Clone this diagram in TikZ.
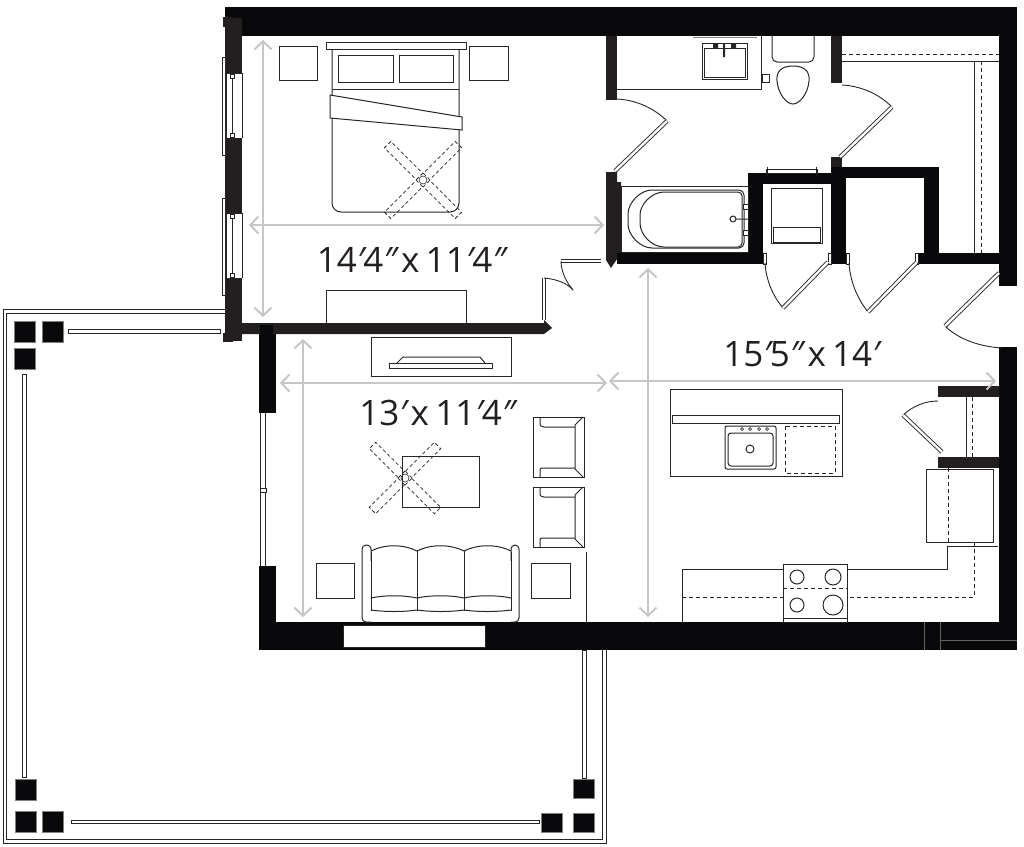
\documentclass[tikz,border=0pt]{standalone}
\usepackage{fontspec}
\setmainfont{Open Sans}
\usetikzlibrary{arrows.meta}
\definecolor{wallblack}{HTML}{09090B}
\definecolor{walldark}{HTML}{231F20}
\definecolor{linegray}{HTML}{262626}
\definecolor{dimgray}{HTML}{C6C6C6}
\newcommand{\ftmk}{{\itshape ′}\kern-.03em}
\newcommand{\inmk}{{\itshape ″}\kern-.02em}
\newcommand{\bysep}{\hspace{.14em}x\hspace{.18em}}
\tikzset{
	wall/.style={fill=wallblack, draw=none},
	walltwo/.style={fill=walldark, draw=none},
	pane/.style={fill=white, draw=linegray, line width=.8pt},
	furn/.style={draw=linegray, line width=1pt},
	hidden/.style={draw=linegray, line width=1pt, dash pattern=on 4pt off 3pt},
	leaf/.style={draw=linegray, line width=.9pt, double=white, double distance=2.4pt},
	swing/.style={draw=linegray, line width=.9pt},
	dim/.style={draw=dimgray, line width=2pt, {Straight Barb[length=8pt,width=17pt]}-{Straight Barb[length=8pt,width=17pt]}},
	room/.style={text=walldark, font=\fontsize{35}{37}\selectfont, inner sep=0pt},
	post/.style={fill=wallblack, draw=gray, line width=.6pt},
	slit/.style={fill=white, draw=linegray, line width=.9pt},
	nub/.style={fill=white, draw=linegray, line width=.6pt}
}
\begin{document}
\begin{tikzpicture}[x=1pt, y=-1pt]
	\useasboundingbox (0,0) rectangle (1024,846);

	% patio
	\draw[furn] (225,309) -- (3,309) -- (3,843) -- (606,843) -- (606,650);
	\draw[furn] (225,313) -- (6,313) -- (6,839) -- (602,839) -- (602,650);
	\draw[slit] (68,329) rectangle (220,333);
	\draw[slit] (22,374) rectangle (26,777);
	\draw[slit] (71,820) rectangle (539,823);
	\draw[slit] (582,650) rectangle (586,778);
	\draw[post] (14,321) rectangle (35,342);
	\draw[post] (42,321) rectangle (63,342);
	\draw[post] (14,348) rectangle (35,369);
	\draw[post] (15,779) rectangle (36,800);
	\draw[post] (15,811) rectangle (36,832);
	\draw[post] (42,811) rectangle (63,832);
	\draw[post] (573,779) rectangle (594,798);
	\draw[post] (541,813) rectangle (562,832);
	\draw[post] (573,813) rectangle (594,832);

	% outer walls
	\fill[wall] (225,7) rectangle (1017,36);
	\fill[wall] (999,7) rectangle (1017,286);
	\fill[wall] (999,347) rectangle (1017,650);
	\fill[wall] (259,622) rectangle (1017,650);
	\draw[walldark!70, line width=.4pt] (924,622) -- (924,650) (940,622) -- (940,650) (940,640) -- (1017,640);
	\fill[walltwo] (225,18) rectangle (242,341);
	\fill[walltwo] (223,17) rectangle (233,27);
	\fill[walltwo] (223,333) rectangle (233,342);
	\fill[walltwo] (225,323) -- (544,323) -- (544,320) -- (552,328) -- (544,334) -- (225,334) -- cycle;
	\fill[wall] (260,325) rectangle (273,350);
	\fill[wall] (259,334) rectangle (276,413);
	\fill[wall] (259,566) rectangle (276,622);
	\draw[pane] (343,625) rectangle (485,647);

	% bedroom windows
	\foreach \wtop/\wbot/\ptop/\pbot in {73/138/57/155, 213/278/198/295} {
		\fill[white] (226,\wtop) rectangle (242,\wbot);
		\draw[furn] (226,\wtop) -- (242,\wtop) (226,\wbot) -- (242,\wbot) (226,\wtop) -- (226,\wbot) (242,\wtop) -- (242,\wbot);
		\draw[furn] (232,\wtop) -- (232,\wbot);
		\draw[pane] (222,\ptop) rectangle (225,\pbot);
		\draw[nub] (230,\wtop+1) rectangle (234,\wtop+5);
		\draw[nub] (230,\wbot-5) rectangle (234,\wbot-1);
	}

	% living room slider
	\fill[white] (260,413) rectangle (266,566);
	\draw[furn] (260,413) -- (260,566);
	\draw[furn] (265,413) -- (265,488) (265,492) -- (265,566);
	\draw[nub] (260,488) rectangle (266,492);

	% doors
	\draw[leaf] (601,261) -- (561,261);
	\draw[leaf] (544,320) -- (544,278);
	\draw[swing] (544,278) .. controls (556,279) and (567,283) .. (573,290);
	\draw[swing] (561,261) .. controls (561,271) and (566,282) .. (573,290);

	% inner walls
	\fill[walltwo] (606,36) rectangle (617,100);
	\fill[walltwo] (606,172) -- (617,172) -- (617,182) -- (621,182) -- (621,253) -- (617,259) -- (611,268) -- (606,260) -- cycle;
	\fill[wall] (617,253) rectangle (763,264);
	\fill[wall] (748,173) rectangle (763,253);
	\fill[wall] (748,173) rectangle (831,184);
	\fill[wall] (831,167) rectangle (846,264);
	\fill[wall] (831,167) rectangle (939,178);
	\fill[wall] (924,167) rectangle (939,253);
	\fill[wall] (918,253) rectangle (999,264);
	\fill[walltwo] (831,36) rectangle (842,83);
	\fill[walltwo] (831,157) rectangle (842,167);
	\fill[walltwo] (938,386) rectangle (999,397);
	\fill[walltwo] (938,457) rectangle (999,468);
	\draw[nub] (763,253) rectangle (766,264);
	\draw[nub] (828,253) rectangle (831,264);
	\draw[nub] (846,253) rectangle (849,264);
	\draw[nub] (915,253) rectangle (918,264);

	% more doors
	\draw[swing] (617,99) .. controls (636,100) and (654,108) .. (667,121);
	\draw[leaf] (615,171) -- (667,121);
	\draw[swing] (842,85) .. controls (861,86) and (879,94) .. (892,107);
	\draw[leaf] (840,157) -- (892,107);
	\draw[swing] (765,263) .. controls (766,279) and (772,295) .. (783,308);
	\draw[leaf] (828,262) -- (783,308);
	\draw[swing] (849,263) .. controls (850,281) and (857,298) .. (868,312);
	\draw[leaf] (917,262) -- (868,312);
	\draw[swing] (945,326) .. controls (958,339) and (980,347) .. (1003,348);
	\draw[leaf] (999,273) -- (945,326);
	\draw[swing] (903,415) .. controls (913,406) and (925,401) .. (938,401);
	\draw[leaf] (942,452) -- (903,415);

	% bed
	\draw[furn] (279,46) rectangle (317,80);
	\draw[furn] (469,46) rectangle (508,80);
	\draw[furn] (326,42) rectangle (466,49);
	\draw[furn, rounded corners=9pt] (332,49) -- (332,212) -- (459,212) -- (459,49);
	\draw[furn] (332,49) -- (459,49);
	\draw[furn] (338,55) rectangle (393,82);
	\draw[furn] (399,55) rectangle (453,82);
	\draw[furn] (332,89) -- (459,89);
	\draw[furn, fill=white] (330,95) -- (462,117) -- (462,130) -- (330,118) -- cycle;
	\draw[furn] (326,323) -- (326,290) -- (466,290) -- (466,323);

	% living room
	\draw[furn] (371,337) rectangle (511,376);
	\draw[furn] (389,363) rectangle (492,368);
	\draw[furn] (397,363) -- (403,357) -- (480,357) -- (485,363);
	\draw[furn] (402,456) rectangle (479,507);
	\foreach \ctop in {417, 487} {
		\draw[furn] (533,\ctop) rectangle (584,\ctop+60);
		\draw[furn] (540,\ctop) -- (540,\ctop+5) .. controls (540,\ctop+9) .. (544,\ctop+10) -- (575,\ctop+10);
		\draw[furn] (540,\ctop+60) -- (540,\ctop+55) .. controls (540,\ctop+51) .. (544,\ctop+51) -- (575,\ctop+51);
		\draw[furn] (583,\ctop) -- (575,\ctop+8) -- (575,\ctop+52) -- (583,\ctop+60);
	}
	\draw[furn] (316,563) rectangle (354,598);
	\draw[furn] (531,563) rectangle (570,598);
	\draw[furn] (586,552) -- (586,622);
	% sofa
	\draw[furn, rounded corners=4pt] (371,622) -- (362,622) -- (362,545) -- (371,545) -- (371,561);
	\draw[furn, rounded corners=4pt] (511,622) -- (519,622) -- (519,545) -- (511,545) -- (511,561);
	\draw[furn] (371,552) -- (371,611) (511,552) -- (511,611);
	\draw[furn] (417,551) -- (417,611) (464,551) -- (464,611);
	\draw[furn] (371,551) .. controls (385,544) and (403,544) .. (417,551) .. controls (431,544) and (450,544) .. (464,551) .. controls (478,544) and (497,544) .. (511,551);
	\draw[furn] (371,598) .. controls (385,595) and (403,595) .. (417,598) .. controls (431,595) and (450,595) .. (464,598) .. controls (478,595) and (497,595) .. (511,598);
	\draw[furn] (371,610) .. controls (385,612) and (403,612) .. (417,610) .. controls (431,612) and (450,612) .. (464,610) .. controls (478,612) and (497,612) .. (511,610);

	% ceiling fans
	\foreach \fx/\fy/\flen in {423/180/50, 405/478/46} {
		\begin{scope}[shift={(\fx,\fy)}]
			\draw[furn, line width=.6pt] (0,0) circle (4);
			\foreach \a in {45,135,225,315}
				\draw[hidden, line width=.8pt, rotate=\a, dash pattern=on 3.5pt off 2.5pt] (5,-4.5) rectangle (\flen,4.5);
		\end{scope}
	}

	% bath
	\draw[furn] (617,89) -- (761,89) -- (761,36);
	\draw[furn, gray] (693,37) -- (757,37);
	\draw[furn] (702,43) rectangle (747,79);
	\draw[furn] (704,48) rectangle (745,77);
	\fill[linegray] (713,43) rectangle (718,48) (731,43) rectangle (736,48) (723,44) rectangle (725,57);
	\draw[furn, fill=white] (762,74) rectangle (769,82);
	\draw[furn, rounded corners=5pt] (772,36) -- (772,62) -- (814,62) -- (814,36);
	\draw[furn] (793,66) .. controls (805,66) and (810,72) .. (809,81) .. controls (808,93) and (800,104) .. (793,104) .. controls (786,104) and (778,93) .. (777,81) .. controls (776,72) and (781,66) .. (793,66);
	\draw[furn] (621,186) rectangle (748,252);
	\draw[furn, rounded corners=5pt] (744,190) -- (657,190) .. controls (640,190) and (628,203) .. (628,219) .. controls (628,235) and (640,248) .. (657,248) -- (744,248) -- cycle;
	\draw[furn, rounded corners=4pt] (742,192) -- (668,192) .. controls (652,192) and (640,204) .. (640,219) .. controls (640,235) and (652,247) .. (668,247) -- (742,247) -- cycle;
	\draw[furn] (733,219) circle (3) (736,219) -- (748,219);
	\draw[furn, fill=white] (743,204) rectangle (748,209);
	\draw[furn, fill=white] (743,230) rectangle (748,235);
	% towel bar and laundry
	\draw[pane] (766,169) rectangle (817,173);
	\draw[furn] (767,167) -- (767,173) (816,167) -- (816,173);
	\draw[furn] (771,188) rectangle (822,243);
	\draw[furn] (773,227) rectangle (820,242);

	% closet
	\draw[furn] (842,61) -- (999,61);
	\draw[hidden] (842,54) -- (999,54);
	\draw[furn] (974,61) -- (974,253);
	\draw[hidden] (981,61) -- (981,253);
	\draw[furn] (966,397) -- (966,457);
	\draw[hidden] (972,397) -- (972,457);

	% kitchen
	\draw[furn] (670,389) rectangle (842,476);
	\draw[furn] (672,415) rectangle (839,423);
	\draw[furn, rounded corners=2pt] (725,426) rectangle (776,469);
	\draw[furn, rounded corners=3pt] (728,433) rectangle (773,466);
	\draw[furn] (750,449) circle (4);
	\foreach \tx in {742,750,759,767}
		\draw[furn, line width=.7pt] (\tx,429) circle (1.5);
	\draw[hidden] (785,426) rectangle (835,473);
	\draw[furn] (926,469) rectangle (993,542);
	\draw[hidden] (948,468) -- (948,542);
	\draw[furn] (682,622) -- (682,569) -- (947,569) -- (947,546) -- (998,546);
	\draw[hidden] (682,597) -- (974,597) -- (974,542);
	\draw[furn, fill=white] (783,564) rectangle (847,622);
	\draw[hidden] (783,588) -- (847,588);
	\draw[furn] (783,618) -- (847,618);
	\draw[furn] (797,577) circle (7);
	\draw[furn] (833,577) circle (8);
	\draw[furn] (797,605) circle (7);
	\draw[furn] (833,605) circle (10);

	% dimensions
	\draw[dim] (263,40) -- (263,317);
	\draw[dim] (249,225) -- (604,225);
	\draw[dim] (303,339) -- (303,617);
	\draw[dim] (280,383) -- (607,383);
	\draw[dim] (648,268) -- (648,617);
	\draw[dim] (609,381) -- (996,381);

	\node[room] (bedroom) at (411,260) {14\ftmk 4\inmk\bysep 11\ftmk 4\inmk};
	\node[room] (living) at (437,413) {13\ftmk\bysep 11\ftmk 4\inmk};
	\node[room] (kitchen) at (801,354) {15\ftmk 5\inmk\bysep 14\ftmk};
\end{tikzpicture}
\end{document}
